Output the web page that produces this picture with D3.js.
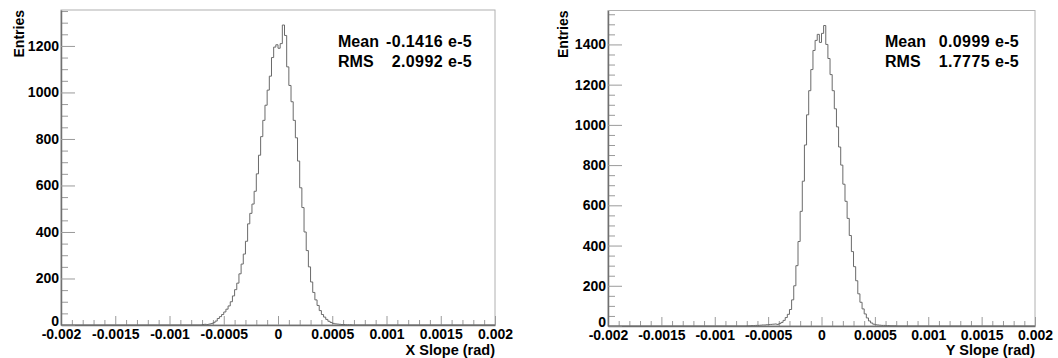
<!DOCTYPE html>
<html>
<head>
<meta charset="utf-8">
<script src="https://cdn.jsdelivr.net/npm/d3@7"></script>
<style>
  body { margin: 0; background: #fff; }
  svg { display: block; }
  text { font-family: "Liberation Sans", Arial, sans-serif; font-weight: bold; fill: #000; }
</style>
</head>
<body>
<svg id="chart" width="1058" height="358"></svg>
<script>
// histogram binning (bins of 2e-5 rad starting at -0.0007)
const binStart = -0.0007;
const binWidth = 0.00002;

// bin contents
const xSlopeCounts = [
  2, 3, 2, 4, 6, 10, 17, 28, 36, 45,
  56, 68, 82, 100, 125, 152, 180, 220, 262, 305,
  360, 435, 480, 520, 575, 650, 730, 810, 880, 945,
  1010, 1070, 1150, 1195, 1205, 1190, 1210, 1290, 1245, 1110,
  1030, 960, 880, 805, 705, 590, 505, 400, 320, 250,
  185, 140, 108, 84, 62, 45, 34, 24, 16, 11,
  7, 5, 4, 3, 2, 2, 1, 1, 1, 0
];
const ySlopeCounts = [
  1, 1, 2, 2, 3, 3, 4, 5, 5, 6,
  7, 8, 9, 10, 8, 12, 18, 28, 42, 58,
  82, 130, 200, 300, 420, 570, 720, 900, 1050, 1170,
  1275, 1370, 1420, 1450, 1410, 1455, 1494, 1400, 1330, 1250,
  1170, 1080, 990, 890, 800, 705, 620, 535, 450, 370,
  295, 225, 160, 118, 85, 60, 40, 25, 15, 9,
  6, 5, 4, 3, 3, 2, 2, 1, 1, 1
];

// axis ticks
const xMajorTicks = [-0.002, -0.0015, -0.001, -0.0005, 0, 0.0005, 0.001, 0.0015, 0.002];
const xTickLabels = ["-0.002", "-0.0015", "-0.001", "-0.0005", "0", "0.0005", "0.001", "0.0015", "0.002"];
const xMinorStep = 0.0001;
const yMajorStep = 200;
const yMinorStep = 50;

// stats box
const statNames = ["Mean", "RMS"];
const xSlopeStats = ["-0.1416", "2.0992"];
const ySlopeStats = ["0.0999", "1.7775"];
const statUnit = "e-5";

const panels = [
  { counts: xSlopeCounts, stats: xSlopeStats, title: "X Slope (rad)",
    left: 61, right: 495, top: 10, bottom: 325, yTitleX: 24 },
  { counts: ySlopeCounts, stats: ySlopeStats, title: "Y Slope (rad)",
    left: 608, right: 1035, top: 10.5, bottom: 326, yTitleX: 568 }
];

const svg = d3.select("#chart");

panels.forEach(p => drawPanel(p));

function drawPanel(p) {
  const g = svg.append("g");

  const x = d3.scaleLinear().domain([-0.002, 0.002]).range([p.left, p.right]);
  const yMax = d3.max(p.counts) * 1.05;
  const y = d3.scaleLinear().domain([0, yMax]).range([p.bottom, p.top]);

  // frame
  g.append("rect")
    .attr("x", p.left).attr("y", p.top)
    .attr("width", p.right - p.left).attr("height", p.bottom - p.top)
    .attr("fill", "none").attr("stroke", "#b0b0b0").attr("stroke-width", 1);

  // minor x ticks
  const xMinor = d3.range(-20, 21).filter(k => k % 5 !== 0).map(k => k * xMinorStep);
  g.append("g")
    .attr("transform", "translate(0," + p.bottom + ")")
    .call(d3.axisBottom(x).tickValues(xMinor).tickSize(-5).tickSizeOuter(0).tickFormat(""))
    .call(a => a.select(".domain").remove())
    .selectAll("line").attr("stroke", "#9a9a9a");

  // major x ticks + labels
  g.append("g")
    .attr("transform", "translate(0," + p.bottom + ")")
    .call(d3.axisBottom(x).tickValues(xMajorTicks).tickSize(-9).tickSizeOuter(0).tickPadding(4)
      .tickFormat((d, i) => xTickLabels[i]))
    .call(a => a.select(".domain").attr("stroke", "#707070").attr("stroke-width", 1.5))
    .call(a => a.selectAll("line").attr("stroke", "#9a9a9a"))
    .selectAll("text")
    .attr("font-size", "14px")
    .attr("font-family", null);

  // minor y ticks
  const yMinor = d3.range(0, yMax, yMinorStep).filter(v => v % yMajorStep !== 0);
  g.append("g")
    .attr("transform", "translate(" + p.left + ",0)")
    .call(d3.axisLeft(y).tickValues(yMinor).tickSize(-7).tickSizeOuter(0).tickFormat(""))
    .call(a => a.select(".domain").remove())
    .selectAll("line").attr("stroke", "#9a9a9a");

  // major y ticks + labels
  const yMajor = d3.range(0, yMax, yMajorStep);
  g.append("g")
    .attr("transform", "translate(" + p.left + ",0)")
    .call(d3.axisLeft(y).tickValues(yMajor).tickSize(-14).tickSizeOuter(0).tickPadding(2)
      .tickFormat(d3.format("d")))
    .call(a => a.select(".domain").attr("stroke", "#707070").attr("stroke-width", 1.5))
    .call(a => a.selectAll("line").attr("stroke", "#9a9a9a"))
    .selectAll("text")
    .attr("font-size", "14px")
    .attr("font-family", null)
    .attr("dy", d => d === 0 ? "0.05em" : "0.32em");

  // histogram as a stepped outline
  const pts = [[-0.002, 0]];
  p.counts.forEach((c, i) => pts.push([binStart + i * binWidth, c]));
  pts.push([binStart + p.counts.length * binWidth, 0]);
  pts.push([0.002, 0]);
  const line = d3.line()
    .x(d => x(d[0]))
    .y(d => y(d[1]))
    .curve(d3.curveStepAfter);
  g.append("path")
    .attr("d", line(pts))
    .attr("fill", "none")
    .attr("stroke", "#6a6a6a")
    .attr("stroke-width", 1);

  // axis titles
  g.append("text")
    .attr("transform", "translate(" + p.yTitleX + "," + p.top + ") rotate(-90)")
    .attr("text-anchor", "end")
    .attr("font-size", "14px")
    .text("Entries");
  g.append("text")
    .attr("x", p.right).attr("y", 355)
    .attr("text-anchor", "end")
    .attr("font-size", "14.5px")
    .text(p.title);

  // stats
  statNames.forEach((name, i) => {
    const yy = 47 + i * 20;
    g.append("text").attr("x", p.left + 277).attr("y", yy)
      .attr("font-size", "16px").text(name);
    g.append("text").attr("x", p.left + 382).attr("y", yy)
      .attr("text-anchor", "end").attr("font-size", "16px").attr("letter-spacing", "0.4px")
      .text(p.stats[i]);
    g.append("text").attr("x", p.left + 387).attr("y", yy)
      .attr("font-size", "16px").attr("letter-spacing", "0.3px").text(statUnit);
  });
}
</script>
</body>
</html>
